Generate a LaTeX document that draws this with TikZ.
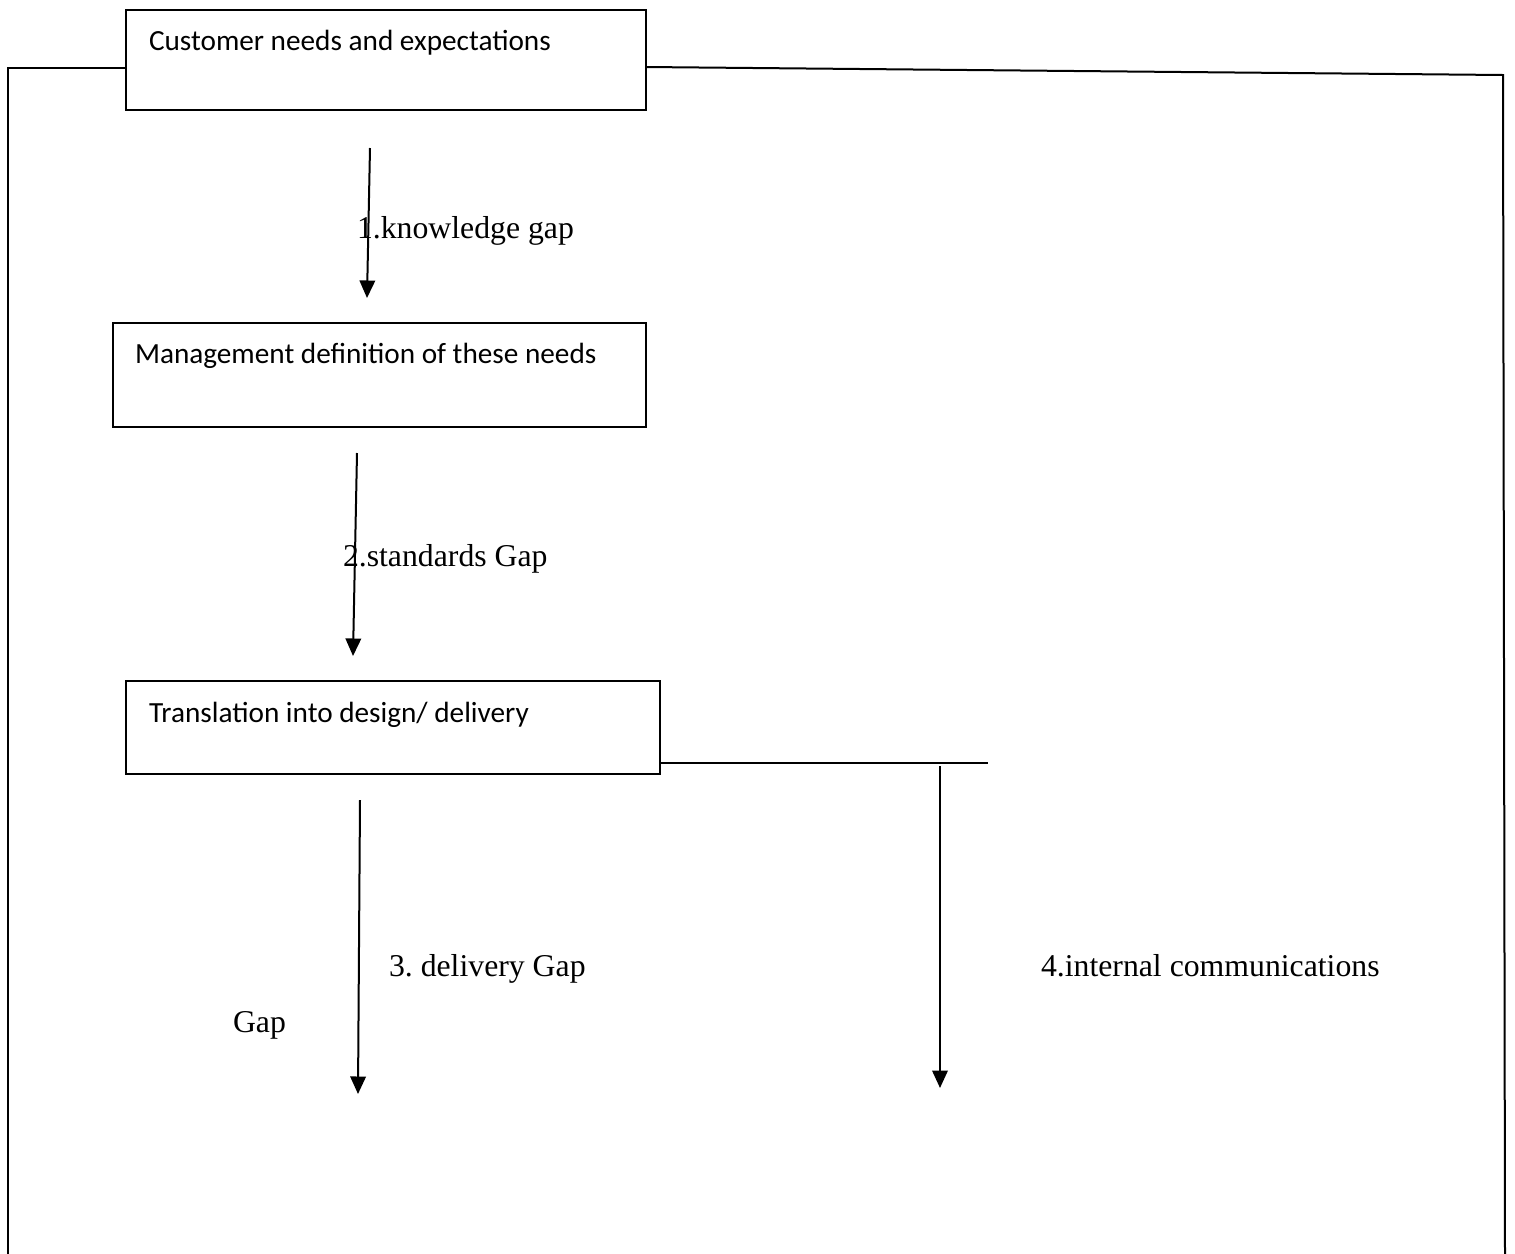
\documentclass[tikz,border=0pt]{standalone}
\usepackage{fontspec}
\setmainfont{Liberation Serif}
\newfontfamily\boxfont{Carlito}
\usetikzlibrary{arrows.meta}
\frenchspacing
\begin{document}
\begin{tikzpicture}[x=0.4pt,y=-0.4pt,
  line width=0.8pt,
  boxtext/.style={anchor=base west,inner sep=0pt,font=\boxfont\fontsize{11.7}{14}\selectfont},
  gaptext/.style={anchor=base west,inner sep=0pt,font=\fontsize{12.7}{15}\selectfont},
  gaparrow/.style={-{Triangle[length=7pt,width=6.2pt]}}]
\useasboundingbox (0,0) rectangle (1515,1254);

% the three stages
\draw[line width=0.9pt] (126,10) rectangle (646,110);
\coordinate (b1w) at (126,68); \coordinate (b1e) at (646,67);
\node[boxtext] (t1) at (148,50) {Customer needs and expectations};

\draw[line width=0.9pt] (113,323) rectangle (646,427);
\node[boxtext] (t2) at (134,363) {Management definition of these needs};

\draw[line width=0.9pt] (126,681) rectangle (660,774);
\coordinate (b3e) at (660,763);
\node[boxtext] (t3) at (148,722) {Translation into design/ delivery};

% outer frame
\coordinate (fl) at (8,68); \coordinate (flb) at (8,1254);
\coordinate (fr) at (1503,75); \coordinate (frb) at (1505,1254);
\draw (b1w) -- (fl) -- (flb);
\draw (b1e) -- (fr) -- (frb);

% branch for the communications gap
\coordinate (br) at (988,763);
\draw (b3e) -- (br);

% gap arrows
\coordinate (a1s) at (370,148); \coordinate (a1e) at (367,298);
\coordinate (a2s) at (357,453); \coordinate (a2e) at (353,656);
\coordinate (a3s) at (360,800); \coordinate (a3e) at (358,1094);
\coordinate (a4s) at (940,766); \coordinate (a4e) at (940,1088);
\draw[gaparrow] (a1s) -- (a1e);
\draw[gaparrow] (a2s) -- (a2e);
\draw[gaparrow] (a3s) -- (a3e);
\draw[gaparrow] (a4s) -- (a4e);

% gap labels
\node[gaptext] (g1) at (356,238) {1.knowledge gap};
\node[gaptext] (g2) at (342,566) {2.standards Gap};
\node[gaptext] (g3) at (388,976) {3. delivery Gap};
\node[gaptext] (g3b) at (232,1032) {Gap};
\node[gaptext] (g4) at (1040,976) {4.internal communications};
\end{tikzpicture}
\end{document}
